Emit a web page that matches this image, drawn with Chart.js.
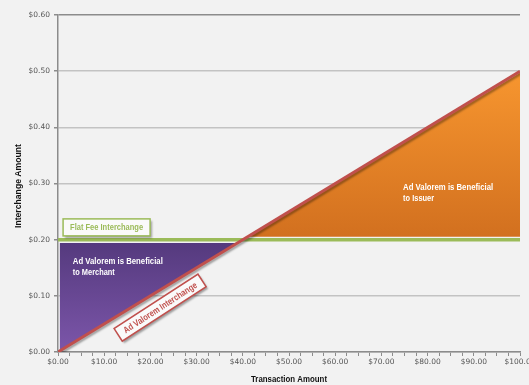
<!DOCTYPE html>
<html>
<head>
<meta charset="utf-8">
<script src="https://cdn.jsdelivr.net/npm/chart.js@4.4.1/dist/chart.umd.min.js"></script>
<style>
  body { margin: 0; background: #f2f2f2; }
  canvas { display: block; }
</style>
</head>
<body>
<canvas id="canvas1" width="529" height="385"></canvas>
<script>
// transaction amount ($) and interchange ($)
var adValoremX = [0, 100];
var adValoremY = [0, 0.50];
var flatFeeX = [0, 100];
var flatFeeY = [0.20, 0.20];
// shaded regions (polygon corners)
var merchantX = [0.4, 38.8, 0.4, 0.4];
var merchantY = [0.194, 0.194, 0.003, 0.194];
var issuerX = [40.9, 100, 100, 40.9];
var issuerY = [0.205, 0.205, 0.497, 0.205];

var boldFont = "bold 9px 'Liberation Sans', Arial, sans-serif";

function pts(xs, ys) {
  return xs.map(function(x, i){ return {x: x, y: ys[i]}; });
}

function grad(top, bottom, yTop, yBottom) {
  return function(c) {
    var chart = c.chart;
    if (!chart.chartArea) return top;
    var y = chart.scales.y;
    var g = chart.ctx.createLinearGradient(0, y.getPixelForValue(yTop), 0, y.getPixelForValue(yBottom));
    g.addColorStop(0, top);
    g.addColorStop(1, bottom);
    return g;
  };
}

function box(ctx, x, y, w, h, stroke, text, color, tw) {
  ctx.save();
  ctx.shadowColor = 'rgba(0,0,0,0.35)';
  ctx.shadowOffsetX = 2;
  ctx.shadowOffsetY = 2;
  ctx.shadowBlur = 2;
  ctx.fillStyle = '#fafafa';
  ctx.fillRect(x, y, w, h);
  ctx.restore();
  ctx.strokeStyle = stroke;
  ctx.lineWidth = 1.5;
  ctx.strokeRect(x, y, w, h);
  ctx.fillStyle = color;
  ctx.font = boldFont;
  ctx.textAlign = 'center';
  ctx.textBaseline = 'middle';
  ctx.fillText(text, x + w / 2, y + h / 2 + 0.5, tw);
}

var labelsPlugin = {
  id: 'labels',
  beforeDatasetDraw: function(chart, args) {
    if (args.index === 0) {
      var ctx = chart.ctx;
      ctx.save();
      ctx.shadowColor = 'rgba(0,0,0,0.35)';
      ctx.shadowOffsetX = 1;
      ctx.shadowOffsetY = 2;
      ctx.shadowBlur = 2;
    }
  },
  afterDatasetDraw: function(chart, args) {
    if (args.index === 0) chart.ctx.restore();
  },
  afterDatasetsDraw: function(chart) {
    var ctx = chart.ctx;
    var xs = chart.scales.x, ys = chart.scales.y;
    ctx.save();
    ctx.fillStyle = '#ffffff';
    ctx.font = boldFont;
    ctx.textAlign = 'left';
    ctx.textBaseline = 'middle';
    var mx = xs.getPixelForValue(3.2), my = ys.getPixelForValue(0.161);
    ctx.fillText('Ad Valorem is Beneficial', mx, my, 90);
    ctx.fillText('to Merchant', mx, my + 11, 42);
    var ix = xs.getPixelForValue(74.7), iy = ys.getPixelForValue(0.292);
    ctx.fillText('Ad Valorem is Beneficial', ix, iy, 90);
    ctx.fillText('to Issuer', ix, iy + 11, 31);

    // axis titles
    ctx.fillStyle = '#111';
    ctx.textAlign = 'center';
    ctx.fillText('Transaction Amount', (chart.chartArea.left + chart.chartArea.right) / 2, 380, 76);
    ctx.save();
    ctx.translate(19, 186);
    ctx.rotate(-Math.PI / 2);
    ctx.fillText('Interchange Amount', 0, 0, 84);
    ctx.restore();

    // flat fee label box
    var fx = xs.getPixelForValue(1.1), fy = ys.getPixelForValue(0.237);
    box(ctx, fx, fy, 87, 17, '#9bbb59', 'Flat Fee Interchange', '#9bbb59', 73);

    // ad valorem label box, rotated along the line
    var ax = xs.getPixelForValue(22.1), ay = ys.getPixelForValue(0.079);
    ctx.translate(ax, ay);
    ctx.rotate(-33 * Math.PI / 180);
    box(ctx, -50, -7.5, 100, 15, '#c0504d', 'Ad Valorem Interchange', '#c0504d', 86);
    ctx.restore();
  }
};

new Chart(document.getElementById('canvas1'), {
  type: 'line',
  data: {
    datasets: [{
      label: 'Ad Valorem Interchange',
      data: pts(adValoremX, adValoremY),
      borderColor: '#c0504d',
      borderWidth: 3,
      pointRadius: 0,
      fill: false,
      order: 0
    }, {
      label: 'Flat Fee Interchange',
      data: pts(flatFeeX, flatFeeY),
      borderColor: '#9bbb59',
      borderWidth: 3.5,
      pointRadius: 0,
      fill: false,
      order: 1
    }, {
      label: 'Beneficial to Merchant',
      data: pts(merchantX, merchantY),
      borderWidth: 0,
      borderColor: 'rgba(0,0,0,0)',
      pointRadius: 0,
      backgroundColor: grad('#553a7e', '#7c56aa', 0.194, 0),
      fill: 'shape',
      order: 2
    }, {
      label: 'Beneficial to Issuer',
      data: pts(issuerX, issuerY),
      borderWidth: 0,
      borderColor: 'rgba(0,0,0,0)',
      pointRadius: 0,
      backgroundColor: grad('#f7962f', '#d2701f', 0.5, 0.205),
      fill: 'shape',
      order: 3
    }]
  },
  options: {
    responsive: false,
    animation: false,
    layout: { padding: { top: 15, right: 9, left: 0, bottom: 0 } },
    plugins: {
      legend: { display: false },
      tooltip: { enabled: false }
    },
    scales: {
      x: {
        type: 'linear',
        min: 0,
        max: 100,
        afterFit: function(s) { s.height = 33; s.paddingLeft = 0; s.paddingRight = 0; },
        border: { color: '#8c8c8c', width: 1.5 },
        grid: { drawOnChartArea: false, drawTicks: true, tickLength: 4, color: '#8c8c8c' },
        ticks: {
          stepSize: 2.5,
          autoSkip: false,
          maxRotation: 0,
          padding: 2,
          color: '#555',
          font: { family: 'DejaVu Sans', size: 7.5 },
          callback: function(v) { return v % 10 === 0 ? '$' + v.toFixed(2) : ''; }
        }
      },
      y: {
        min: 0,
        max: 0.6,
        afterFit: function(s) { s.width = 58; s.paddingTop = 0; s.paddingBottom = 0; },
        border: { color: '#8c8c8c', width: 1.5 },
        grid: {
          color: function(c) { return c.tick.value >= 0.6 ? '#8c8c8c' : '#c3c3c3'; },
          lineWidth: 1.5,
          tickLength: 4,
          tickColor: '#8c8c8c'
        },
        ticks: {
          stepSize: 0.1,
          padding: 4,
          color: '#555',
          font: { family: 'DejaVu Sans', size: 7.5 },
          callback: function(v) { return '$' + v.toFixed(2); }
        }
      }
    }
  },
  plugins: [labelsPlugin]
});
</script>
</body>
</html>
